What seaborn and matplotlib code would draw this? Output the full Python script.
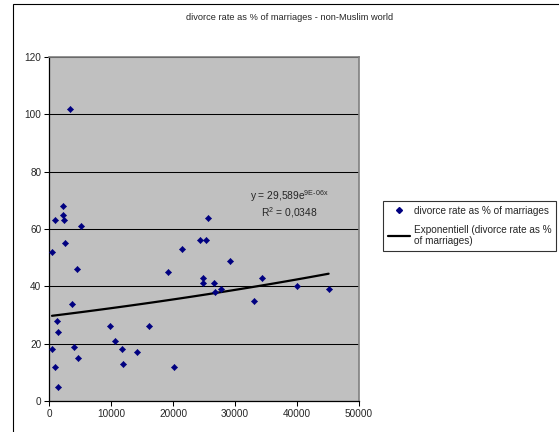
import numpy as np
import pandas as pd
import matplotlib
matplotlib.use("Agg")
import matplotlib.pyplot as plt
from matplotlib.lines import Line2D
from matplotlib.patches import Rectangle
import seaborn as sns

# GDP per capita (x) and divorce rate as % of marriages (y)
gdp_per_capita = [3400, 2200, 2300, 1000, 2460, 5200, 2600, 480, 4550, 3750,
                  1290, 1450, 530, 3970, 4710, 1010, 1400, 9860, 16190, 10720,
                  11790, 14150, 12000, 20100, 19200, 21400, 25600, 24300, 25400, 29260,
                  24900, 34300, 24800, 26600, 26850, 27800, 33000, 40000, 45100]
divorce_rate = [102, 68, 65, 63, 63, 61, 55, 52, 46, 34,
                28, 24, 18, 19, 15, 12, 5, 26, 26, 21,
                18, 17, 13, 12, 45, 53, 64, 56, 56, 49,
                43, 43, 41, 41, 38, 39, 35, 40, 39]

# exponential trend y = a * exp(b x)
trend_a = 29.589
trend_b = 9e-06
trend_r2 = 0.0348

x_ticks = [0, 10000, 20000, 30000, 40000, 50000]
y_ticks = [0, 20, 40, 60, 80, 100, 120]

title = "divorce rate as % of marriages - non-Muslim world"
series_label = "divorce rate as % of marriages"
trend_label = "Exponentiell (divorce rate as %\nof marriages)"

sns.set_theme(style="white")
plt.rcParams["font.family"] = ["Liberation Sans", "DejaVu Sans"]
plt.rcParams["mathtext.fontset"] = "custom"
plt.rcParams["mathtext.rm"] = "Liberation Sans"
plt.rcParams["mathtext.it"] = "Liberation Sans:italic"
plt.rcParams["mathtext.bf"] = "Liberation Sans:bold"

df = pd.DataFrame({"gdp": gdp_per_capita, "rate": divorce_rate})
xs = np.linspace(min(gdp_per_capita), max(gdp_per_capita), 100)
trend = pd.DataFrame({"gdp": xs, "rate": trend_a * np.exp(trend_b * xs)})

fig = plt.figure(figsize=(5.59, 4.32), dpi=100)
fig.patch.set_facecolor("white")
ax = fig.add_axes([49 / 559, 1 - 401 / 432, 310 / 559, 344 / 432])
ax.set_facecolor("#C0C0C0")

# outer chart frame
fig.patches.append(Rectangle((13 / 559, -0.1), 1.2, 1.1 - 4 / 432,
                             transform=fig.transFigure, fill=False,
                             edgecolor="black", linewidth=0.8))

ax.set_axisbelow(True)
ax.grid(axis="y", color="black", linewidth=0.75)
ax.grid(axis="x", visible=False)

sns.lineplot(data=trend, x="gdp", y="rate", ax=ax, color="black",
             linewidth=1.6, zorder=3)
sns.scatterplot(data=df, x="gdp", y="rate", ax=ax, marker="D", s=10,
                color="#000080", edgecolor="#000080", linewidth=0.4, zorder=4)

ax.set_xlim(0, 50000)
ax.set_ylim(0, 120)
ax.set_xticks(x_ticks)
ax.set_yticks(y_ticks)
ax.set_xticklabels([str(v) for v in x_ticks], fontsize=7.2)
ax.set_yticklabels([str(v) for v in y_ticks], fontsize=7.2)
ax.tick_params(axis="both", which="major", direction="out", length=3.5,
               width=0.75, color="black", pad=2, bottom=True, left=True)
ax.set_xlabel("")
ax.set_ylabel("")

for side in ("left", "bottom"):
    ax.spines[side].set_color("black")
    ax.spines[side].set_linewidth(0.9)
for side in ("top", "right"):
    ax.spines[side].set_color("#808080")
    ax.spines[side].set_linewidth(1.2)

fig.text(290 / 559, 1 - 17 / 432, title, ha="center", va="center", fontsize=6.7)

ax.text(38700, 71.6, r"y = 29,589e$^{\mathregular{9E\text{-}06x}}$",
        ha="center", va="center", fontsize=7.4)
ax.text(38700, 65.6, r"R$^{\mathregular{2}}$ = 0,0348",
        ha="center", va="center", fontsize=7.4)

handles = [
    Line2D([], [], marker="D", linestyle="none", color="#000080",
           markersize=3, label=series_label),
    Line2D([], [], color="black", linewidth=1.6, label=trend_label),
]
leg = fig.legend(handles=handles, loc="upper left",
                 bbox_to_anchor=(383 / 559, 1 - 201 / 432),
                 frameon=True, fancybox=False, shadow=False,
                 fontsize=7.2, handlelength=2.2, handletextpad=0.4,
                 borderpad=0.45, labelspacing=0.9, borderaxespad=0)
leg.get_frame().set_edgecolor("black")
leg.get_frame().set_linewidth(0.8)

fig.savefig("out.png", dpi=100)
